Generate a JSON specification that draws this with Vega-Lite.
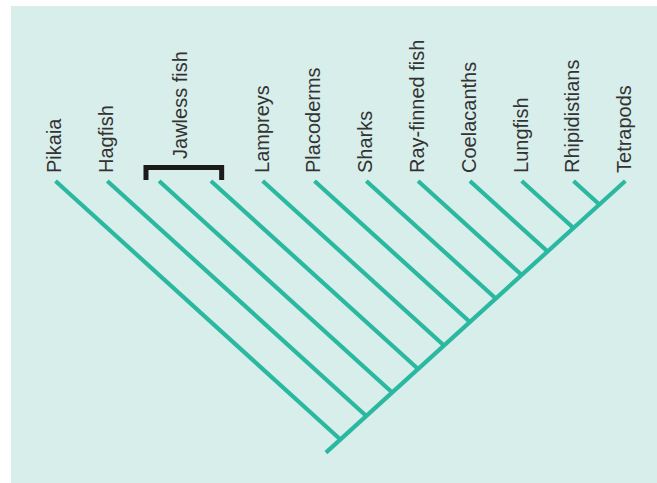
{
  "$schema": "https://vega.github.io/schema/vega-lite/v6.json",
  "width": 646,
  "height": 477,
  "autosize": {"type": "none"},
  "padding": {"left": 11, "top": 6, "right": 0, "bottom": 0},
  "background": "#ffffff",
  "view": {"fill": "#d8eeea", "stroke": null},
  "datasets": {
    "branches": [
      {"taxon": "Pikaia", "x": 0, "y": 0, "x2": 5.5, "y2": 5.5},
      {"taxon": "Hagfish", "x": 1, "y": 0, "x2": 6, "y2": 5},
      {"taxon": "Jawless fish A", "x": 2, "y": 0, "x2": 6.5, "y2": 4.5},
      {"taxon": "Jawless fish B", "x": 3, "y": 0, "x2": 7, "y2": 4},
      {"taxon": "Lampreys", "x": 4, "y": 0, "x2": 7.5, "y2": 3.5},
      {"taxon": "Placoderms", "x": 5, "y": 0, "x2": 8, "y2": 3},
      {"taxon": "Sharks", "x": 6, "y": 0, "x2": 8.5, "y2": 2.5},
      {"taxon": "Ray-finned fish", "x": 7, "y": 0, "x2": 9, "y2": 2},
      {"taxon": "Coelacanths", "x": 8, "y": 0, "x2": 9.5, "y2": 1.5},
      {"taxon": "Lungfish", "x": 9, "y": 0, "x2": 10, "y2": 1},
      {"taxon": "Rhipidistians", "x": 10, "y": 0, "x2": 10.5, "y2": 0.5},
      {"taxon": "Tetrapods (trunk)", "x": 11, "y": 0, "x2": 5.22, "y2": 5.78}
    ],
    "labels": [
      {"name": "Pikaia", "x": 0},
      {"name": "Hagfish", "x": 1},
      {"name": "Lampreys", "x": 4},
      {"name": "Placoderms", "x": 5},
      {"name": "Sharks", "x": 6},
      {"name": "Ray-finned fish", "x": 7},
      {"name": "Coelacanths", "x": 8},
      {"name": "Lungfish", "x": 9},
      {"name": "Rhipidistians", "x": 10},
      {"name": "Tetrapods", "x": 11}
    ],
    "bracket": [
      {"order": 1, "x": 1.747, "y": -0.021},
      {"order": 2, "x": 1.747, "y": -0.287},
      {"order": 3, "x": 3.208, "y": -0.287},
      {"order": 4, "x": 3.208, "y": -0.021}
    ],
    "group": [
      {"name": "Jawless fish", "x": 2.42}
    ]
  },
  "layer": [
    {
      "data": {"name": "branches"},
      "mark": {"type": "rule", "color": "#2ab8a0", "strokeWidth": 4.2},
      "encoding": {
        "x": {"field": "x", "type": "quantitative", "scale": {"domain": [-0.859, 11.612], "nice": false, "zero": false}, "axis": null},
        "y": {"field": "y", "type": "quantitative", "scale": {"domain": [-3.723, 6.426], "nice": false, "zero": false, "reverse": true}, "axis": null},
        "x2": {"field": "x2"},
        "y2": {"field": "y2"}
      }
    },
    {
      "data": {"name": "bracket"},
      "mark": {"type": "line", "color": "#1a1a1a", "strokeWidth": 5, "strokeJoin": "miter", "strokeCap": "butt"},
      "encoding": {
        "x": {"field": "x", "type": "quantitative"},
        "y": {"field": "y", "type": "quantitative"},
        "order": {"field": "order", "type": "quantitative"}
      }
    },
    {
      "data": {"name": "labels"},
      "mark": {"type": "text", "angle": 270, "align": "left", "baseline": "middle", "font": "Liberation Sans", "fontSize": 20, "color": "#333333"},
      "encoding": {
        "x": {"field": "x", "type": "quantitative"},
        "y": {"datum": -0.17},
        "text": {"field": "name"}
      }
    },
    {
      "data": {"name": "group"},
      "mark": {"type": "text", "angle": 270, "align": "left", "baseline": "middle", "font": "Liberation Sans", "fontSize": 20, "color": "#333333"},
      "encoding": {
        "x": {"field": "x", "type": "quantitative"},
        "y": {"datum": -0.468},
        "text": {"field": "name"}
      }
    }
  ]
}
